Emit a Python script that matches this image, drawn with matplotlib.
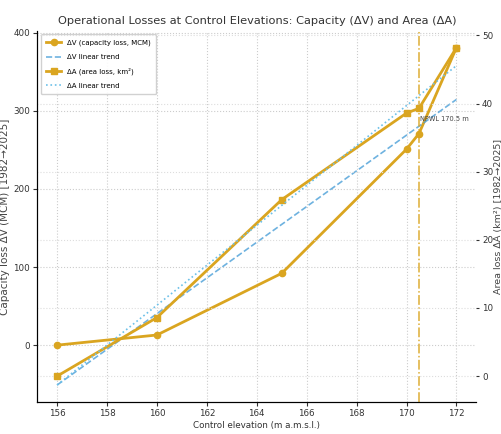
import numpy as np
import matplotlib
matplotlib.use('Agg')
import matplotlib.pyplot as plt

# control elevations (m a.m.s.l.)
elev = [156, 160, 165, 170, 170.5, 172]
# capacity loss dV (MCM) and area loss dA (km2), 1982 -> 2025
dv = [0, 13, 92, 251, 271, 381]
da = [0, 8.6, 25.9, 38.6, 39.3, 48.2]
npwl = 170.5

gold = '#DAA520'
plt.rcParams['font.family'] = 'DejaVu Sans'

fig = plt.figure(figsize=(5.02, 4.34), dpi=100)
ax = fig.add_axes([0.074, 0.074, 0.875, 0.855])
ax2 = ax.twinx()

x = np.array(elev)
pv = np.polyfit(x, dv, 1)
pa = np.polyfit(x, da, 1)
xs = np.array([min(elev), max(elev)])

l1, = ax.plot(elev, dv, color=gold, lw=2, marker='o', ms=4.5,
              label='ΔV (capacity loss, MCM)')
l2, = ax.plot(xs, np.polyval(pv, xs), color='#4a9fd8', lw=1.2, ls='--',
              alpha=0.8, label='ΔV linear trend')
l3, = ax2.plot(elev, da, color=gold, lw=2, marker='s', ms=4.5,
               label='ΔA (area loss, km²)')
l4, = ax2.plot(xs, np.polyval(pa, xs), color='#6cc0e8', lw=1.2, ls=':',
               label='ΔA linear trend')

ax.axvline(npwl, color=gold, ls='-.', lw=1.1, alpha=0.9)
ax.text(npwl + 0.05, 290, f'NPWL {npwl} m', fontsize=4.8, color='#444444',
        va='center', ha='left')

ax.set_xticks(np.arange(156, 173, 2))
ax.set_yticks([0, 100, 200, 300, 400])
ax2.set_yticks([0, 10, 20, 30, 40, 50])
ax.grid(True, ls=':', color='#cccccc', lw=0.8)
ax2.grid(True, ls=':', color='#dddddd', lw=0.8)
for a in (ax, ax2):
    a.spines['top'].set_visible(False)
    a.spines['right'].set_visible(False)
    a.tick_params(labelsize=6.3, colors='#333333', length=3, pad=2)
ax2.tick_params(length=2.5, pad=1.5)

ax.set_xlabel('Control elevation (m a.m.s.l.)', fontsize=6.3, labelpad=2,
              color='#333333')
ax.set_ylabel('Capacity loss ΔV (MCM) [1982→2025]', fontsize=7.5,
              color='#444444')
ax.yaxis.set_label_coords(-0.062, 0.5)
ax2.set_ylabel('Area loss ΔA (km²) [1982→2025]', fontsize=6.8,
               color='#444444', rotation=90, va='center')
ax2.yaxis.set_label_coords(1.05, 0.5)
ax.set_title('Operational Losses at Control Elevations: Capacity (ΔV) and Area (ΔA)',
             fontsize=8.2, color='#333333', pad=5)

ax.legend(handles=[l1, l2, l3, l4], loc='upper left', fontsize=5,
          frameon=True, framealpha=0.9, edgecolor='#cccccc', handlelength=2.2,
          borderpad=0.8, labelspacing=1.1)

fig.savefig('out.png', dpi=100)
